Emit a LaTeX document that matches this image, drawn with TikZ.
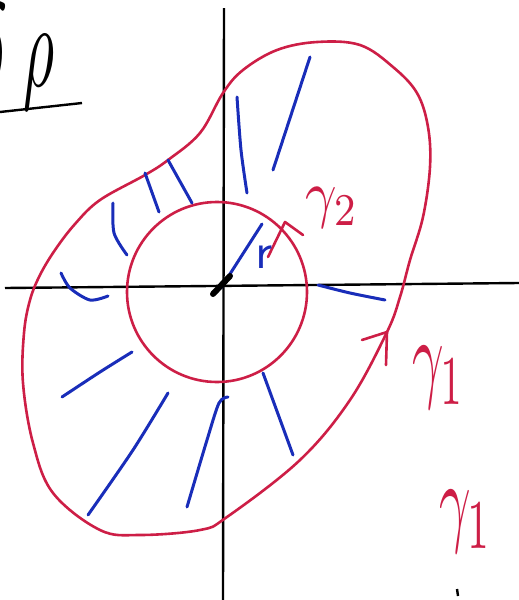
\documentclass[tikz,border=0pt]{standalone}
\usepackage{amsmath}
\usetikzlibrary{arrows.meta}
\definecolor{penred}{RGB}{205,30,70}
\definecolor{penblue}{RGB}{25,45,185}

\begin{document}
\begin{tikzpicture}[
  x=1pt, y=-1pt,
  axis/.style={black, line width=2.4pt},
  curve/.style={penred, line width=2.6pt, line join=round, line cap=round},
  field/.style={penblue, line width=3pt, line cap=round},
  lbl/.style={inner sep=0pt, text=penred}
]
\useasboundingbox (0,0) rectangle (519,600);

% axes
\coordinate (O) at (221,288);
\draw[axis] (5,288) -- (519,283);
\draw[axis] (224,8) -- (223,600);

% title
\node[inner sep=0pt, xscale=6, yscale=12, anchor=base east] (drho) at (56,86)
  {$\delta\;\rho$};
\draw[axis] (0,112) -- (82,103);

% outer contour
\draw[curve] plot[smooth cycle, tension=0.6] coordinates {
  (317,42) (360,45) (393,67) (417,93) (428,127) (430,167) (423,217)
  (410,260) (400,297) (387,332) (350,400) (300,460) (227,517) (200,530)
  (140,535) (100,530) (53,493) (33,443) (23,383) (24,333) (30,300)
  (40,275) (55,250) (75,224) (100,200) (145,175) (168,160) (200,133)
  (223,93) (243,70) (277,50)};
\draw[curve] (362,340) -- (387,332) -- (386,365);

% inner contour
\draw[curve] (217,292) circle[radius=90];
\draw[curve] (268,257) -- (285,222) -- (303,235);

% field lines
\draw[field] (310,57) -- (273,170);
\draw[field] plot[smooth] coordinates {(237,97) (241,150) (247,193)};
\draw[field] (168,160) -- (192,203);
\draw[field] (145,173) -- (159,212);
\draw[field] plot[smooth] coordinates {(113,203) (114,233) (127,255)};
\draw[field] plot[smooth] coordinates {(61,273) (70,288) (90,300) (108,296)};
\draw[field] plot[smooth] coordinates {(132,352) (100,372) (62,397)};
\draw[field] plot[smooth] coordinates {(168,393) (133,450) (88,515)};
\draw[field] plot[smooth] coordinates {(228,397) (219,403) (207,440) (187,507)};
\draw[field] (263,373) -- (293,455);
\draw[field] plot[smooth] coordinates {(318,285) (350,293) (385,300)};
\draw[field] (O) -- (262,224);
\node[inner sep=0pt, text=penblue, scale=5] (r) at (264,257) {\textsf{r}};

% singular point
\draw[black, line width=6pt, line cap=round] (213,294) -- (230,276);

% labels
\node[lbl, xscale=5.5, yscale=6.5] (g2) at (332,208) {$\gamma_2$};
\node[lbl, xscale=5.5, yscale=10] (g1a) at (439,378) {$\gamma_1$};
\node[lbl, xscale=5.5, yscale=10] (g1b) at (466,522) {$\gamma_1$};

\draw[axis] (457,589) -- (458,596);
\end{tikzpicture}
\end{document}
